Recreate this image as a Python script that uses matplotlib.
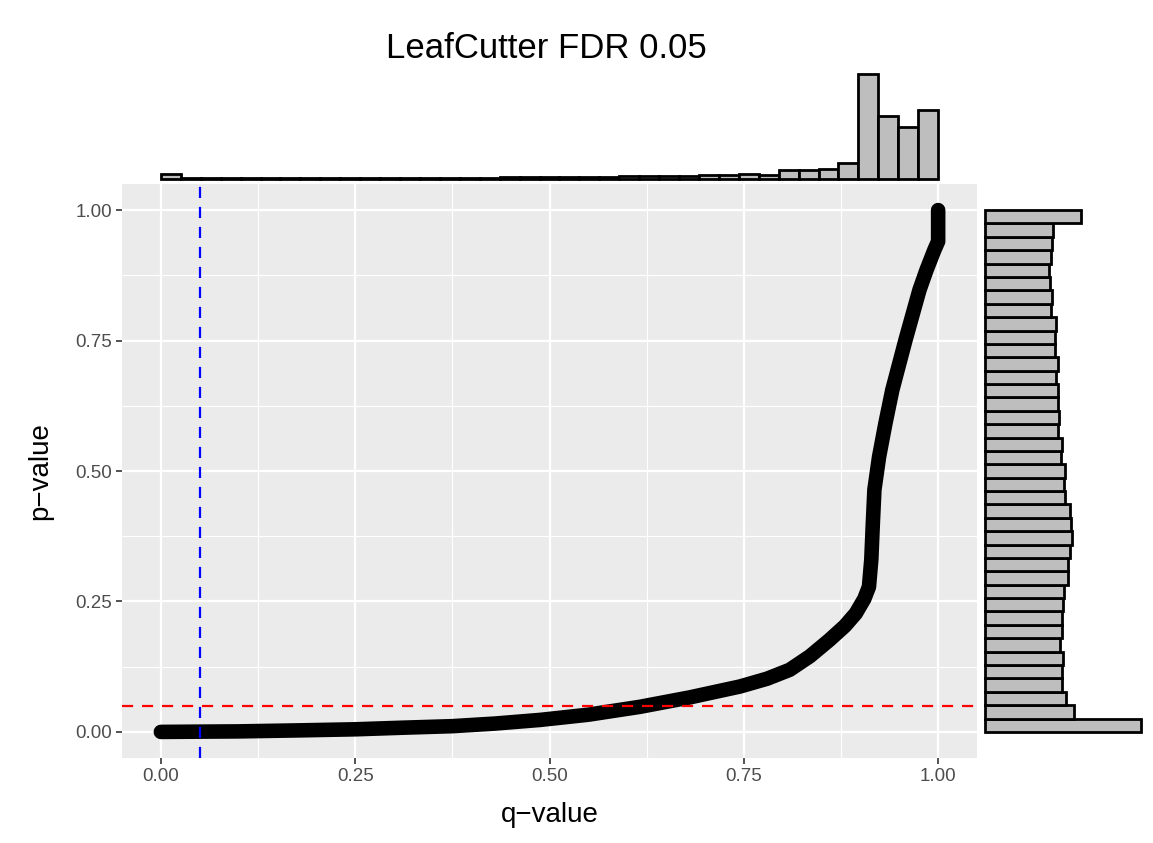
import matplotlib
matplotlib.use("Agg")
import matplotlib.pyplot as plt
import numpy as np

plt.rcParams['font.family'] = ['Liberation Sans', 'DejaVu Sans']

# ---- data ----
curve_q = [0.0, 0.05, 0.10, 0.18, 0.25, 0.31, 0.375, 0.43, 0.488, 0.55,
           0.616, 0.68, 0.745, 0.78, 0.809, 0.835, 0.860, 0.880, 0.894, 0.905,
           0.911, 0.914, 0.916, 0.918, 0.924, 0.932, 0.941, 0.958, 0.976, 0.985,
           0.995, 1.0, 1.0]
curve_p = [0.0, 0.0005, 0.001, 0.003, 0.005, 0.008, 0.011, 0.016, 0.023, 0.033,
           0.048, 0.066, 0.087, 0.102, 0.119, 0.145, 0.176, 0.203, 0.227, 0.255,
           0.278, 0.330, 0.400, 0.464, 0.527, 0.590, 0.655, 0.751, 0.847, 0.885,
           0.923, 0.94, 1.0]

# marginal histogram of q-values (39 bins over [0, 1])
q_counts = [4.5, 0.3, 0.3, 0.3, 0.3, 0.3, 0.4, 0.4, 0.5, 0.5,
            0.6, 0.7, 0.8, 0.9, 1.0, 1.1, 1.2, 1.4, 1.5, 1.6,
            1.8, 2.0, 2.2, 2.6, 2.5, 2.8, 3.0, 3.3, 3.3, 5.0,
            4.0, 9.0, 8.3, 9.7, 15.7, 104.0, 62.0, 51.7, 68.3]
# marginal histogram of p-values (39 bins over [0, 1], bottom to top)
p_counts = [155.7, 89.3, 80.7, 77.3, 77.3, 78.3, 75.0, 76.7, 76.7, 78.3,
            79.3, 82.7, 83.3, 85.0, 86.7, 86.0, 85.0, 80.0, 79.3, 80.0,
            76.0, 76.7, 72.7, 74.3, 73.3, 72.7, 71.0, 72.7, 70.0, 70.0,
            70.7, 66.0, 66.7, 65.0, 64.0, 66.0, 67.3, 68.3, 96.0]
n_bins = 39
bin_edges = np.linspace(0.0, 1.0, n_bins + 1)

tick_values = [0.0, 0.25, 0.5, 0.75, 1.0]
tick_labels = ["0.00", "0.25", "0.50", "0.75", "1.00"]
minor_values = [0.125, 0.375, 0.625, 0.875]
fdr = 0.05

title = "LeafCutter FDR 0.05"
xlabel = "q\u2212value"
ylabel = "p\u2212value"

# ---- figure ----
W, H = 1153, 843
fig = plt.figure(figsize=(W / 100, H / 100), dpi=100)
fig.patch.set_facecolor('white')

def fx(px):
    return px / W

def fy(py):
    return 1 - py / H

main_l, main_r, main_t, main_b = 122, 977, 184, 758
ax = fig.add_axes([fx(main_l), fy(main_b), fx(main_r) - fx(main_l), fy(main_t) - fy(main_b)])
ax_top = fig.add_axes([fx(main_l), fy(183), fx(main_r) - fx(main_l), fy(68) - fy(183)])
ax_right = fig.add_axes([fx(981), fy(main_b), fx(1150) - fx(981), fy(main_t) - fy(main_b)])

# main panel
ax.set_facecolor('#EBEBEB')
for s in ax.spines.values():
    s.set_visible(False)
ax.set_xlim(-0.05, 1.05)
ax.set_ylim(-0.05, 1.05)
ax.set_xticks(tick_values)
ax.set_xticklabels(tick_labels)
ax.set_yticks(tick_values)
ax.set_yticklabels(tick_labels)
ax.set_xticks(minor_values, minor=True)
ax.set_yticks(minor_values, minor=True)
ax.grid(which='major', color='white', linewidth=1.6)
ax.grid(which='minor', color='white', linewidth=0.8)
ax.set_axisbelow(True)
ax.tick_params(which='major', colors='#333333', labelcolor='#4D4D4D',
               length=4, width=1.2, labelsize=13.5, pad=3)
ax.tick_params(which='minor', length=0)

ax.plot(curve_q, curve_p, color='black', linewidth=10.5,
        solid_capstyle='round', solid_joinstyle='round', zorder=3)
ax.axvline(fdr, color='#0000FF', linestyle=(0, (5, 4)), linewidth=1.6, zorder=4)
ax.axhline(fdr, color='#FF0000', linestyle=(0, (5, 4)), linewidth=1.6, zorder=4)

# top marginal histogram
ax_top.bar(bin_edges[:-1], q_counts, width=np.diff(bin_edges), align='edge',
           color='#BEBEBE', edgecolor='black', linewidth=2.0)
M = max(q_counts)
ax_top.set_xlim(-0.05, 1.05)
ax_top.set_ylim(-0.04 * M, 1.055 * M)
ax_top.axis('off')

# right marginal histogram
ax_right.barh(bin_edges[:-1], p_counts, height=np.diff(bin_edges), align='edge',
              color='#BEBEBE', edgecolor='black', linewidth=2.0)
ax_right.set_ylim(-0.05, 1.05)
ax_right.set_xlim(-4, 165)
ax_right.axis('off')

# texts
fig.text(fx(546), fy(49), title, ha='center', va='center', fontsize=25, color='black')
fig.text(fx(550), fy(815), xlabel, ha='center', va='center', fontsize=20, color='black')
fig.text(fx(40), fy(471), ylabel, ha='center', va='center', fontsize=20,
         rotation=90, color='black')

fig.savefig('out.png', dpi=100)
